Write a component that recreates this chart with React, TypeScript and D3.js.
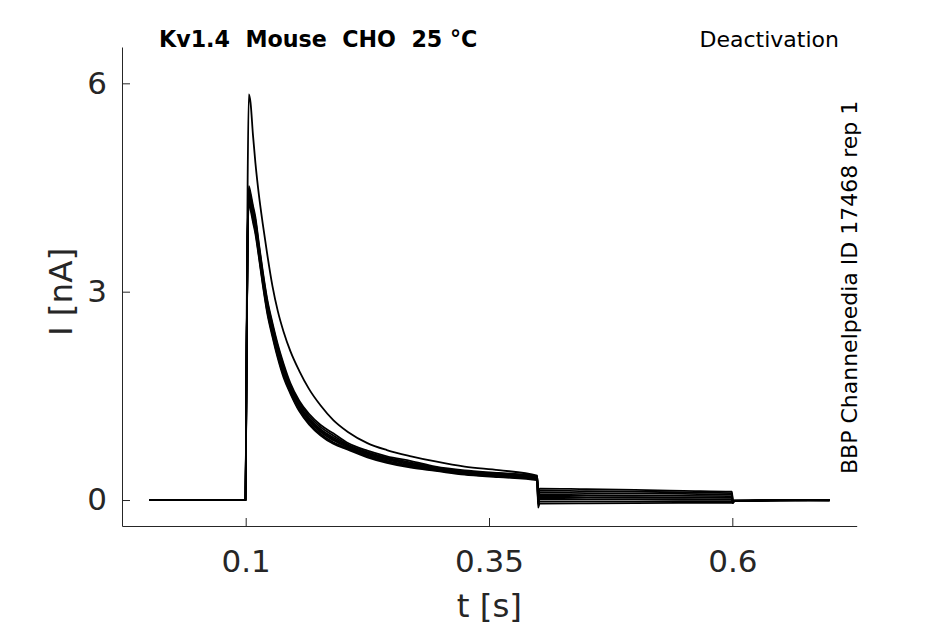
import React, { useRef, useEffect } from "react";
import * as d3 from "d3";

// time grid shared by all sweeps (s)
const timeS = [
  0.001, 0.0998, 0.1003, 0.101, 0.102, 0.1032, 0.105, 0.1075, 0.11, 0.1135,
  0.1175, 0.122, 0.1275, 0.133, 0.139, 0.146, 0.155, 0.165, 0.177, 0.19,
  0.205, 0.225, 0.245, 0.27, 0.295, 0.325, 0.36, 0.3995, 0.4005, 0.402,
  0.45, 0.5, 0.55, 0.5995, 0.6005, 0.602, 0.65, 0.7,
];

// current sweeps (nA)
const sweepTall = [
  0, 0, 0.9, 2.6, 4.6, 5.84, 5.72, 5.25, 4.85, 4.4,
  3.98, 3.55, 3.08, 2.72, 2.42, 2.14, 1.86, 1.6, 1.36, 1.15,
  0.98, 0.82, 0.72, 0.63, 0.555, 0.48, 0.43, 0.35, -0.06, -0.02,
  -0.019, -0.018, -0.016, -0.015, -0.045, -0.015, -0.01, -0.01,
];
const sweep1 = [
  0, 0, 0.84, 2.26, 3.86, 4.52, 4.42, 4.24, 4.07, 3.7,
  3.3, 2.9, 2.55, 2.24, 1.96, 1.68, 1.43, 1.24, 1.08, 0.96,
  0.82, 0.71, 0.63, 0.56, 0.48, 0.425, 0.39, 0.345, 0.1, 0.165,
  0.155, 0.145, 0.132, 0.12, 0.0, -0.01, 0.0, 0.0,
];
const sweep2 = [
  0, 0, 0.82, 2.24, 3.84, 4.48, 4.38, 4.2, 4.03, 3.67,
  3.27, 2.87, 2.52, 2.21, 1.93, 1.65, 1.4, 1.21, 1.05, 0.93,
  0.8, 0.69, 0.61, 0.54, 0.47, 0.415, 0.38, 0.335, 0.07, 0.135,
  0.127, 0.12, 0.11, 0.1, -0.01, -0.01, 0.0, -0.005,
];
const sweep3 = [
  0, 0, 0.8, 2.22, 3.82, 4.44, 4.34, 4.16, 3.99, 3.63,
  3.23, 2.83, 2.48, 2.17, 1.89, 1.62, 1.37, 1.18, 1.02, 0.9,
  0.785, 0.675, 0.595, 0.525, 0.46, 0.405, 0.37, 0.325, 0.04, 0.105,
  0.1, 0.095, 0.088, 0.08, -0.02, -0.01, 0.0, 0.0,
];
const sweep4 = [
  0, 0, 0.78, 2.2, 3.8, 4.4, 4.3, 4.12, 3.95, 3.6,
  3.2, 2.8, 2.45, 2.14, 1.86, 1.6, 1.35, 1.16, 1.0, 0.88,
  0.77, 0.66, 0.58, 0.51, 0.45, 0.395, 0.36, 0.315, 0.01, 0.075,
  0.07, 0.065, 0.06, 0.055, -0.03, -0.015, -0.005, 0.0,
];
const sweep5 = [
  0, 0, 0.76, 2.18, 3.78, 4.36, 4.26, 4.08, 3.91, 3.57,
  3.17, 2.77, 2.42, 2.1, 1.83, 1.58, 1.33, 1.14, 0.98, 0.86,
  0.755, 0.645, 0.565, 0.495, 0.44, 0.385, 0.35, 0.305, -0.02, 0.045,
  0.042, 0.04, 0.035, 0.03, -0.03, -0.01, 0.0, -0.005,
];
const sweep6 = [
  0, 0, 0.74, 2.16, 3.76, 4.32, 4.22, 4.04, 3.87, 3.53,
  3.13, 2.73, 2.38, 2.07, 1.79, 1.55, 1.3, 1.11, 0.95, 0.83,
  0.74, 0.63, 0.55, 0.48, 0.43, 0.375, 0.34, 0.295, -0.05, 0.015,
  0.014, 0.012, 0.011, 0.01, -0.035, -0.015, -0.005, 0.0,
];
const sweep7 = [
  0, 0, 0.72, 2.14, 3.74, 4.28, 4.18, 4.0, 3.83, 3.5,
  3.1, 2.7, 2.35, 2.04, 1.76, 1.53, 1.28, 1.09, 0.93, 0.81,
  0.725, 0.615, 0.535, 0.465, 0.42, 0.365, 0.33, 0.285, -0.11, -0.05,
  -0.047, -0.045, -0.042, -0.04, -0.04, -0.015, -0.005, 0.0,
];
const sweeps = [sweep7, sweep6, sweep5, sweep4, sweep3, sweep2, sweep1, sweepTall];

const xTicks = [0.1, 0.35, 0.6];
const yTicks = [0, 3, 6];

const titleText = "Kv1.4  Mouse  CHO  25 °C";
const protocolText = "Deactivation";
const sourceText = "BBP Channelpedia ID 17468 rep 1";

const FONT = "DejaVu Sans, Verdana, sans-serif";
const INK = "#262626";

const App: React.FC = () => {
  const svgRef = useRef<SVGSVGElement | null>(null);

  const width = 945;
  const height = 624;
  // plot box in page pixels
  const left = 122;
  const right = 856.7;
  const top = 47;
  const bottom = 526;

  useEffect(() => {
    const svg = d3.select(svgRef.current);
    svg.selectAll("*").remove();

    const x = d3.scaleLinear().domain([-0.0271, 0.7278]).range([left, right]);
    const y = d3.scaleLinear().domain([-0.374, 6.523]).range([bottom, top]);

    // sweeps
    const line = d3
      .line<number>()
      .x((_, i) => x(timeS[i]))
      .y((d) => y(d))
      .curve(d3.curveMonotoneX);

    svg
      .append("g")
      .selectAll("path")
      .data(sweeps)
      .enter()
      .append("path")
      .attr("d", (d) => line(d))
      .attr("fill", "none")
      .attr("stroke", "#000")
      .attr("stroke-width", 1.8)
      .attr("stroke-linejoin", "round");

    // axes, ticks pointing inward
    const xAxis = svg
      .append("g")
      .attr("transform", `translate(0,${bottom})`)
      .call(
        d3
          .axisBottom(x)
          .tickValues(xTicks)
          .tickSizeInner(-8)
          .tickSizeOuter(0)
          .tickPadding(24)
          .tickFormat(d3.format(""))
      );

    const yAxis = svg
      .append("g")
      .attr("transform", `translate(${left},0)`)
      .call(
        d3
          .axisLeft(y)
          .tickValues(yTicks)
          .tickSizeInner(-8)
          .tickSizeOuter(0)
          .tickPadding(15)
          .tickFormat(d3.format(""))
      );

    [xAxis, yAxis].forEach((g) => {
      g.attr("font-family", FONT).attr("font-size", 31);
      g.selectAll("path, line").attr("stroke", INK).attr("stroke-width", 1);
      g.selectAll("text").attr("fill", INK);
    });

    // axis labels
    svg
      .append("text")
      .attr("x", (left + right) / 2)
      .attr("y", 617)
      .attr("text-anchor", "middle")
      .attr("font-family", FONT)
      .attr("font-size", 32.5)
      .attr("fill", INK)
      .text("t [s]");

    svg
      .append("text")
      .attr("transform", "translate(72,292) rotate(-90)")
      .attr("text-anchor", "middle")
      .attr("font-family", FONT)
      .attr("font-size", 32.5)
      .attr("fill", INK)
      .text("I [nA]");

    // annotations
    svg
      .append("text")
      .attr("x", 159)
      .attr("y", 47)
      .attr("font-family", FONT)
      .attr("font-size", 22.2)
      .attr("font-weight", "bold")
      .attr("fill", "#000")
      .style("white-space", "pre")
      .text(titleText);

    svg
      .append("text")
      .attr("x", 839)
      .attr("y", 47)
      .attr("text-anchor", "end")
      .attr("font-family", FONT)
      .attr("font-size", 22)
      .attr("fill", "#000")
      .text(protocolText);

    svg
      .append("text")
      .attr("transform", "translate(857,474) rotate(-90)")
      .attr("text-anchor", "start")
      .attr("font-family", FONT)
      .attr("font-size", 22)
      .attr("fill", "#000")
      .text(sourceText);
  }, []);

  return (
    <svg
      ref={svgRef}
      width={width}
      height={height}
      style={{ position: "absolute", left: 0, top: 0, background: "#fff" }}
    ></svg>
  );
};

export default App;
